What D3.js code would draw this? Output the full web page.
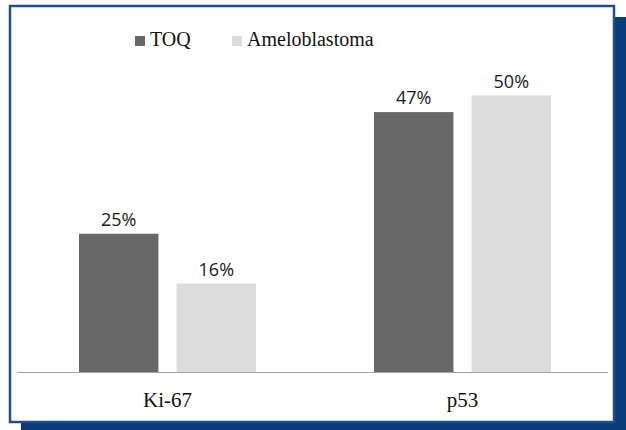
<!DOCTYPE html>
<html>
<head>
<meta charset="utf-8">
<script src="https://cdn.jsdelivr.net/npm/d3@7"></script>
<style>
html,body{margin:0;padding:0;background:#fff;}
svg{display:block;}
.serif{font-family:"Liberation Serif",Tinos,"Times New Roman",Times,"Noto Serif",serif;}
</style>
</head>
<body>
<svg id="chart" width="626" height="430"></svg>
<script>
const categories = ["Ki-67", "p53"];
const seriesNames = ["TOQ", "Ameloblastoma"];
const toqValues = [25, 47];
const ameloValues = [16, 50];
const valueLabels = [["25%", "16%"], ["47%", "50%"]];
const colors = ["#686868", "#dcdcdc"];

const svg = d3.select("#chart");

// frame shadow and panel
svg.append("rect").attr("x", 21).attr("y", 17).attr("width", 605).attr("height", 413).attr("fill", "#0c3c78");
svg.append("rect").attr("x", 10).attr("y", 6).attr("width", 604).attr("height", 416)
  .attr("fill", "#fff").attr("stroke", "#1f4f8f").attr("stroke-width", 2.5);

const baseY = 372;
const y = d3.scaleLinear().domain([0, 60]).range([baseY, baseY - 60 * 5.53]);
const x0 = d3.scaleBand().domain(categories).range([20, 610]).paddingInner(0.4).paddingOuter(0.2);
const x1 = d3.scaleBand().domain(seriesNames).range([0, x0.bandwidth()]).paddingInner(0.186);

const data = categories.map((c, i) => ({
  cat: c,
  vals: [
    {s: seriesNames[0], v: toqValues[i], label: valueLabels[i][0], color: colors[0]},
    {s: seriesNames[1], v: ameloValues[i], label: valueLabels[i][1], color: colors[1]}
  ]
}));

const g = svg.append("g").selectAll("g").data(data).join("g")
  .attr("transform", d => `translate(${x0(d.cat)},0)`);

g.selectAll("rect").data(d => d.vals).join("rect")
  .attr("x", d => x1(d.s))
  .attr("y", d => y(d.v))
  .attr("width", x1.bandwidth())
  .attr("height", d => y(0) - y(d.v))
  .attr("fill", d => d.color);

g.selectAll("text").data(d => d.vals).join("text")
  .attr("x", d => x1(d.s) + x1.bandwidth() / 2)
  .attr("y", d => y(d.v) - 8)
  .attr("text-anchor", "middle")
  .style("font-family", "'Open Sans', sans-serif")
  .style("font-weight", 500)
  .attr("font-size", 18)
  .attr("fill", "#1a1a1a")
  .text(d => d.label);

// axis baseline
svg.append("line").attr("x1", 17).attr("x2", 608).attr("y1", baseY + 0.5).attr("y2", baseY + 0.5)
  .attr("stroke", "#a0a0a0").attr("stroke-width", 1);

// category labels
const xAxis = d3.axisBottom(x0).tickSize(0).tickPadding(0);
const ax = svg.append("g").attr("transform", `translate(0,${baseY})`).call(xAxis);
ax.attr("font-family", null);
ax.select(".domain").remove();
ax.selectAll("text")
  .attr("dy", null)
  .attr("y", 35)
  .attr("class", "serif")
  .style("font-size", "21px")
  .attr("fill", "#111");

// legend
const legendItems = [
  {name: seriesNames[0], color: colors[0], x: 135},
  {name: seriesNames[1], color: colors[1], x: 232}
];
const lg = svg.append("g").selectAll("g").data(legendItems).join("g")
  .attr("transform", d => `translate(${d.x},0)`);
lg.append("rect").attr("x", 0).attr("y", 36).attr("width", 10).attr("height", 10)
  .attr("fill", d => d.color);
lg.append("text").attr("x", 15).attr("y", 46)
  .attr("class", "serif")
  .style("font-size", "20px").attr("fill", "#111")
  .text(d => d.name);
</script>
</body>
</html>
